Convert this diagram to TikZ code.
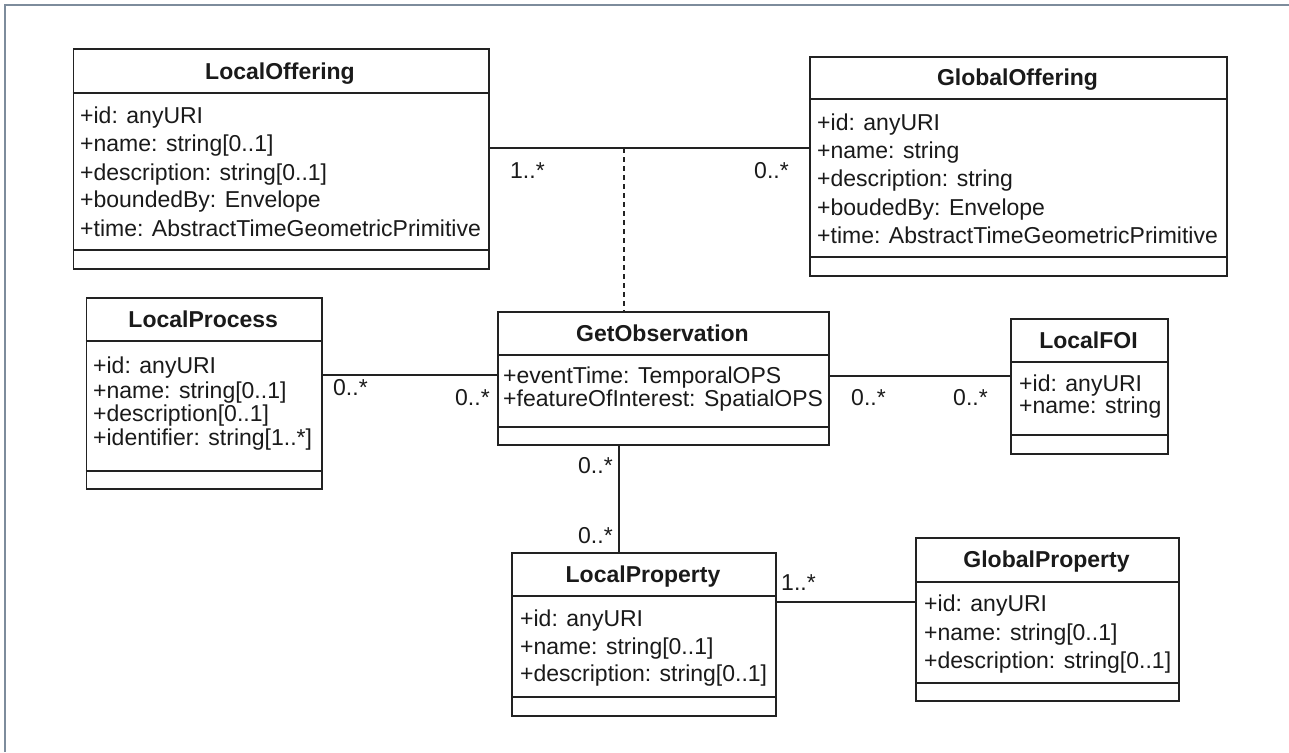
\documentclass[tikz,border=0pt]{standalone}
\usepackage{fontspec}
\setmainfont{Liberation Sans}
\usetikzlibrary{calc}
\definecolor{linec}{HTML}{222222}
\definecolor{txt}{HTML}{1A1A1A}
\definecolor{framec}{HTML}{7D8C9C}
\tikzset{
  cls/.style={draw=linec, line width=1.8pt, anchor=north west, inner sep=0pt, fill=white},
  sep/.style={draw=linec, line width=1.8pt},
  ttl/.style={font=\bfseries\fontsize{23}{27}\selectfont, anchor=base, inner sep=0pt, text=txt},
  attr/.style={font=\fontsize{23}{27}\selectfont, anchor=base west, inner sep=0pt, text=txt},
  mult/.style={font=\fontsize{23}{27}\selectfont, anchor=base west, inner sep=0pt, text=txt},
  assoc/.style={draw=linec, line width=1.8pt},
  dep/.style={draw=linec, line width=1.6pt, dash pattern=on 5pt off 4pt},
  frame/.style={draw=framec, line width=2pt}
}
\begin{document}
\begin{tikzpicture}[x=1pt,y=-1pt]
\useasboundingbox (0,0) rectangle (1289,752);
\coordinate (fA) at (5,752);
\coordinate (fB) at (5,5);
\coordinate (fC) at (1289,5);
\draw[frame] (fA) -- (fB) -- (fC);

% LocalOffering
\node[cls, minimum width=415.5pt, minimum height=220pt] (lo) at (72.5,48) {};
\draw[sep] ($(lo.north west)+(0,45)$) -- ($(lo.north east)+(0,45)$);
\draw[sep] ($(lo.north west)+(0,202)$) -- ($(lo.north east)+(0,202)$);
\node[ttl] (loT) at (280,79) {LocalOffering};
\node[attr] (lo1) at (80,123) {+id: anyURI};
\node[attr] (lo2) at (80,151) {+name: string[0..1]};
\node[attr] (lo3) at (80,180) {+description: string[0..1]};
\node[attr] (lo4) at (80,207) {+boundedBy: Envelope};
\node[attr] (lo5) at (80,236) {+time: AbstractTimeGeometricPrimitive};

% GlobalOffering
\node[cls, minimum width=417pt, minimum height=219pt] (go) at (809,56) {};
\draw[sep] ($(go.north west)+(0,43)$) -- ($(go.north east)+(0,43)$);
\draw[sep] ($(go.north west)+(0,201)$) -- ($(go.north east)+(0,201)$);
\node[ttl] (goT) at (1017.5,85) {GlobalOffering};
\node[attr] (go1) at (817,130) {+id: anyURI};
\node[attr] (go2) at (817,158) {+name: string};
\node[attr] (go3) at (817,186) {+description: string};
\node[attr] (go4) at (817,215) {+boudedBy: Envelope};
\node[attr] (go5) at (817,243) {+time: AbstractTimeGeometricPrimitive};

% LocalProcess
\node[cls, minimum width=235.5pt, minimum height=191pt] (lp) at (85.5,297) {};
\draw[sep] ($(lp.north west)+(0,44)$) -- ($(lp.north east)+(0,44)$);
\draw[sep] ($(lp.north west)+(0,174)$) -- ($(lp.north east)+(0,174)$);
\node[ttl] (lpT) at (203.25,327) {LocalProcess};
\node[attr] (lp1) at (93,373) {+id: anyURI};
\node[attr] (lp2) at (93,398) {+name: string[0..1]};
\node[attr] (lp3) at (93,421) {+description[0..1]};
\node[attr] (lp4) at (93,445) {+identifier: string[1..*]};

% GetObservation
\node[cls, minimum width=331pt, minimum height=133pt] (gob) at (497,311) {};
\draw[sep] ($(gob.north west)+(0,44)$) -- ($(gob.north east)+(0,44)$);
\draw[sep] ($(gob.north west)+(0,116)$) -- ($(gob.north east)+(0,116)$);
\node[ttl] (gobT) at (662.5,341) {GetObservation};
\node[attr] (gob1) at (503,383) {+eventTime: TemporalOPS};
\node[attr] (gob2) at (503,406) {+featureOfInterest: SpatialOPS};

% LocalFOI
\node[cls, minimum width=157pt, minimum height=135pt] (foi) at (1010,318) {};
\draw[sep] ($(foi.north west)+(0,44)$) -- ($(foi.north east)+(0,44)$);
\draw[sep] ($(foi.north west)+(0,117)$) -- ($(foi.north east)+(0,117)$);
\node[ttl] (foiT) at (1088.5,348) {LocalFOI};
\node[attr] (foi1) at (1019,391) {+id: anyURI};
\node[attr] (foi2) at (1019,413) {+name: string};

% LocalProperty
\node[cls, minimum width=264pt, minimum height=163pt] (lpr) at (511,552) {};
\draw[sep] ($(lpr.north west)+(0,44)$) -- ($(lpr.north east)+(0,44)$);
\draw[sep] ($(lpr.north west)+(0,145)$) -- ($(lpr.north east)+(0,145)$);
\node[ttl] (lprT) at (643,582) {LocalProperty};
\node[attr] (lpr1) at (520,626) {+id: anyURI};
\node[attr] (lpr2) at (520,654) {+name: string[0..1]};
\node[attr] (lpr3) at (520,681) {+description: string[0..1]};

% GlobalProperty
\node[cls, minimum width=263pt, minimum height=163pt] (gp) at (915,537) {};
\draw[sep] ($(gp.north west)+(0,45)$) -- ($(gp.north east)+(0,45)$);
\draw[sep] ($(gp.north west)+(0,146)$) -- ($(gp.north east)+(0,146)$);
\node[ttl] (gpT) at (1046.5,567) {GlobalProperty};
\node[attr] (gp1) at (924,611) {+id: anyURI};
\node[attr] (gp2) at (924,640) {+name: string[0..1]};
\node[attr] (gp3) at (924,668) {+description: string[0..1]};

% Connectors
\coordinate (loA) at ($(lo.north east)+(0,100)$);
\coordinate (goA) at ($(go.north west)+(0,92)$);
\draw[assoc] (loA) -- (goA);
\coordinate (depTop) at ($(loA)+(134,0)$);
\draw[dep] (depTop) -- (depTop |- gob.north);

\draw[assoc] ($(lp.north east)+(0,78)$) -- ($(gob.north west)+(0,64)$);
\draw[assoc] ($(gob.north east)+(0,65)$) -- ($(foi.north west)+(0,58)$);
\coordinate (gobB) at ($(gob.south west)+(122,0)$);
\draw[assoc] (gobB) -- (gobB |- lpr.north);
\draw[assoc] ($(lpr.north east)+(0,50)$) -- ($(gp.north west)+(0,65)$);

% Multiplicities
\node[mult] (m1) at (510,178) {1..*};
\node[mult] (m2) at (754,178) {0..*};
\node[mult] (m3) at (333,395) {0..*};
\node[mult] (m4) at (455,405) {0..*};
\node[mult] (m5) at (851,405) {0..*};
\node[mult] (m6) at (953,405) {0..*};
\node[mult] (m7) at (578,473) {0..*};
\node[mult] (m8) at (578,543) {0..*};
\node[mult] (m9) at (781,590) {1..*};
\end{tikzpicture}
\end{document}
